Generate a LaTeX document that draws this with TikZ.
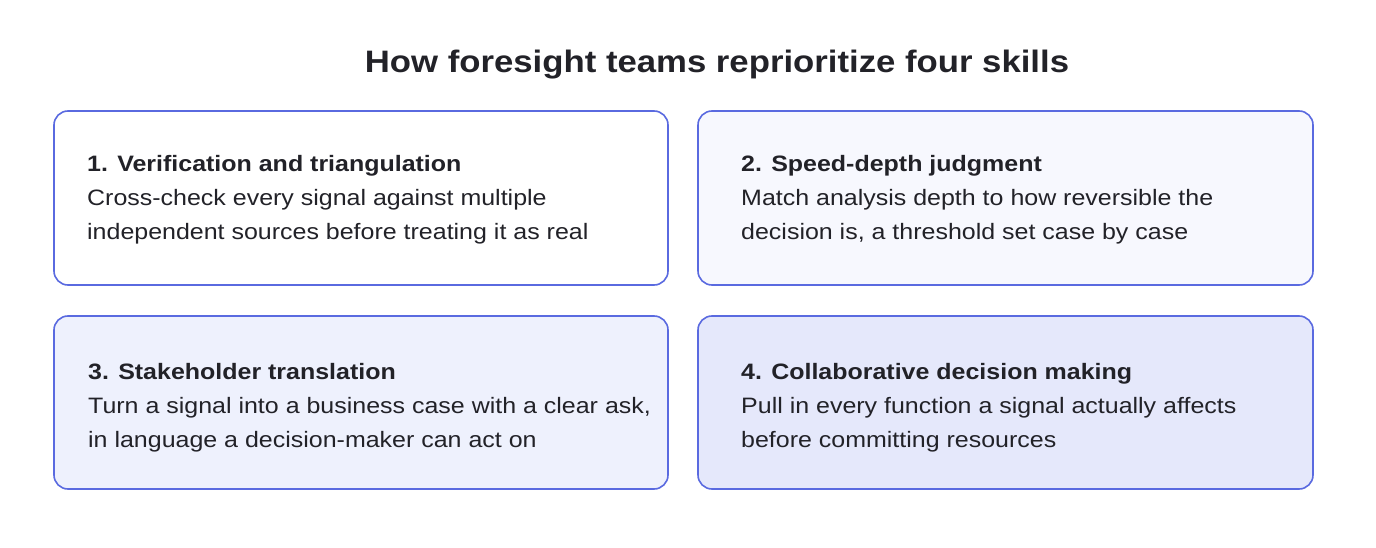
\documentclass[tikz,border=0pt]{standalone}
\usepackage{fontspec}
\setmainfont[FakeStretch=1.12]{Liberation Sans}
\begin{document}
\begin{tikzpicture}[x=1pt,y=-1pt,
  card/.style={draw=bordc,line width=1.6pt,rounded corners=14pt},
  txt/.style={anchor=base west,align=left,inner sep=0pt,font=\fontsize{22.3}{34}\selectfont,text=tc}]
\definecolor{bordc}{HTML}{5A6AE0}
\definecolor{tc}{HTML}{222228}
\definecolor{f1}{HTML}{FFFFFF}
\definecolor{f2}{HTML}{F7F8FE}
\definecolor{f3}{HTML}{EEF1FD}
\definecolor{f4}{HTML}{E5E8FB}
\useasboundingbox[fill=white] (0,0) rectangle (1376,548);
\node[font=\bfseries\fontsize{31}{36}\selectfont,text=tc,anchor=base] (title) at (717,73) {How foresight teams reprioritize four skills};
\draw[card,fill=f1] (54,111) rectangle (668,285);
\draw[card,fill=f2] (698,111) rectangle (1313,285);
\draw[card,fill=f3] (54,316) rectangle (668,489);
\draw[card,fill=f4] (698,316) rectangle (1313,489);
\node[txt] (t1) at (87,240) {\textbf{1. Verification and triangulation}\\Cross-check every signal against multiple\\independent sources before treating it as real};
\node[txt] (t2) at (741,240) {\textbf{2. Speed-depth judgment}\\Match analysis depth to how reversible the\\decision is, a threshold set case by case};
\node[txt] (t3) at (88,447) {\textbf{3. Stakeholder translation}\\Turn a signal into a business case with a clear ask,\\in language a decision-maker can act on};
\node[txt] (t4) at (741,447) {\textbf{4. Collaborative decision making}\\Pull in every function a signal actually affects\\before committing resources};
\end{tikzpicture}
\end{document}
